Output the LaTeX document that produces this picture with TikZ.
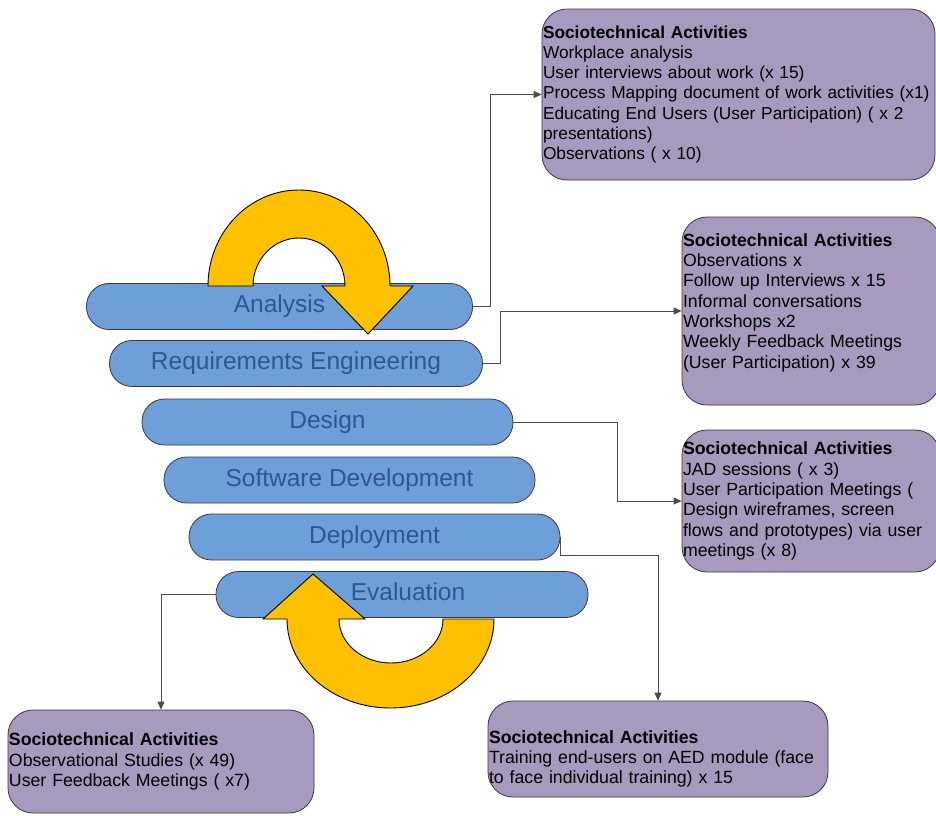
\documentclass[tikz,border=0pt]{standalone}
\usepackage{fontspec}
\setmainfont{Liberation Sans}
\usetikzlibrary{arrows.meta, positioning}
\definecolor{phaseBlue}{HTML}{6F9FD8}
\definecolor{phaseInk}{HTML}{2F5597}
\definecolor{actPurple}{HTML}{A899BF}
\definecolor{turnGold}{HTML}{FFC000}
\definecolor{edgeGray}{HTML}{3A3A3A}

\begin{document}
\begin{tikzpicture}[
        x=1pt,
        y=-1pt,
        >={Triangle[length=8pt,width=7pt]},
        phase/.style={rectangle, draw=edgeGray, line width=0.8pt, fill=phaseBlue,
                      rounded corners=22.5pt, minimum height=46pt, inner sep=0pt,
                      text=phaseInk, text height=17.5pt, text depth=5pt,
                      font=\fontsize{24.5}{28}\selectfont},
        acts/.style={rectangle, draw=edgeGray, line width=0.8pt, fill=actPurple,
                     rounded corners=25pt, align=left, inner xsep=1pt, inner ysep=0pt,
                     text=black, font=\fontsize{17.7}{20.3}\selectfont},
        link/.style={->, draw=black!70, line width=0.9pt},
        turn/.style={draw=black, line width=0.9pt, fill=turnGold}
    ]

    \useasboundingbox (0,0) rectangle (936,815);

    % Life-cycle phases
    \node[phase, minimum width=386pt] (analysis) at (279.5,306.5) {Analysis};
    \node[phase, minimum width=373pt] (reqs)     at (296,363.5)   {Requirements Engineering};
    \node[phase, minimum width=371pt] (design)   at (327.5,422)   {Design};
    \node[phase, minimum width=371pt] (develop)  at (349.5,480)   {Software Development};
    \node[phase, minimum width=371pt] (deploy)   at (374.5,537)   {Deployment};
    \node[phase, minimum width=372pt] (evaluate) at (402,594.5)   {\hspace{12pt}Evaluation};

    % Sociotechnical activity boxes
    \node[acts, text width=391pt, minimum height=171pt,
          font=\fontsize{17.3}{20.3}\selectfont] (anact) at (738.5,94.5)
        {\textbf{Sociotechnical Activities}\\ Workplace analysis\\ User interviews about work (x 15)\\
         \mbox{Process Mapping document of work activities (x1)}\\ Educating End Users (User Participation) ( x 2\\
         presentations)\\ Observations ( x 10)};
    \node[acts, text width=256pt, minimum height=188pt] (reqact) at (811,311)
        {\textbf{Sociotechnical Activities}\\ Observations x\\ Follow up Interviews x 15\\
         Informal conversations\\ Workshops x2\\ Weekly Feedback Meetings\\
         (User Participation) x 39\\ \mbox{}};
    \node[acts, text width=256pt, minimum height=142pt] (desact) at (811,501)
        {\textbf{Sociotechnical Activities}\\ JAD sessions ( x 3)\\ User Participation Meetings (\\
         Design wireframes, screen\\ \mbox{flows and prototypes) via user}\\ meetings (x 8)};
    \node[acts, text width=338pt, minimum height=96pt] (depact) at (658,749)
        {\mbox{}\\[12pt] \textbf{Sociotechnical Activities}\\ Training end-users on AED module (face\\
         to face individual training) x 15};
    \node[acts, text width=304pt, minimum height=103pt] (evalact) at (161,761.5)
        {\textbf{Sociotechnical Activities}\\ Observational Studies (x 49)\\ User Feedback Meetings ( x7)};

    % Phase to activity links
    \draw[link] (analysis.east) -- ++(18,0) |- (anact.west);
    \draw[link] (reqs.east) -- ++(18,0) |- (reqact.west);
    \draw[link] (design.east) -- ++(104,0) |- (desact.west);
    \draw[link] (deploy.east) -- ++(0,18) -| (depact.north);
    \draw[link] (evaluate.west) -| (evalact.north);

    % Iteration arrows
    \draw[turn] (208,286) arc[start angle=180, end angle=360, x radius=91, y radius=96]
        -- (413,286) -- (368,334) -- (322,286) -- (345,286)
        arc[start angle=360, end angle=180, x radius=46, y radius=48] -- cycle;
    \draw[turn] (494,619) arc[start angle=0, end angle=180, x radius=103.5, y radius=89]
        -- (263,619) -- (313,574) -- (365,619) -- (339,619)
        arc[start angle=180, end angle=0, x radius=52, y radius=44] -- cycle;

\end{tikzpicture}
\end{document}
